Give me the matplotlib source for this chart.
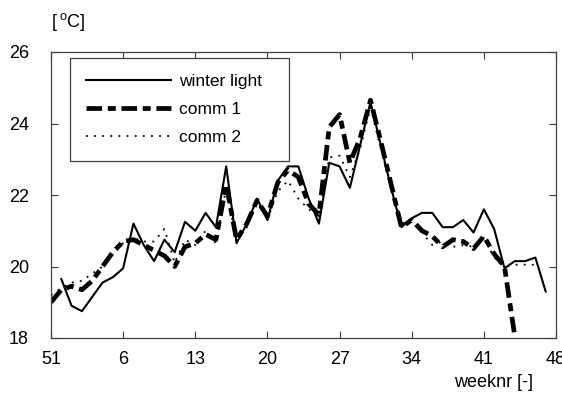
import numpy as np
import matplotlib
matplotlib.use('Agg')
import matplotlib.pyplot as plt

# 字体设置
matplotlib.rcParams['font.family'] = ['Liberation Sans', 'DejaVu Sans']
matplotlib.rcParams['font.size'] = 13
matplotlib.rcParams['mathtext.fontset'] = 'custom'
matplotlib.rcParams['mathtext.rm'] = 'Liberation Sans'

# week numbers along the axis (week 51 of previous year up to week 48)
weeks = [51, 52] + list(range(1, 49))
tick_weeks = [51, 6, 13, 20, 27, 34, 41, 48]

nan = np.nan
# temperature per week [deg C], nan = no data
winter_light = [nan, 19.65, 18.9, 18.75, 19.15, 19.55, 19.7, 19.95, 21.2, 20.6,
                20.15, 20.75, 20.4, 21.25, 21.0, 21.5, 21.1, 22.8, 20.65, 21.2,
                21.9, 21.3, 22.4, 22.8, 22.8, 21.9, 21.2, 22.9, 22.8, 22.2,
                23.4, 24.6, 23.4, 22.2, 21.1, 21.35, 21.5, 21.5, 21.1, 21.1,
                21.3, 20.95, 21.6, 21.05, 19.95, 20.15, 20.15, 20.25, 19.3, nan]
comm_1 = [19.0, 19.35, 19.45, 19.35, 19.6, 20.0, 20.4, 20.7, 20.75, 20.6,
          20.45, 20.3, 20.0, 20.55, 20.65, 20.9, 20.75, 22.3, 20.75, 21.2,
          21.85, 21.4, 22.35, 22.7, 22.5, 21.75, 21.45, 23.9, 24.25, 22.9,
          23.6, 24.65, 23.5, 22.3, 21.1, 21.3, 21.0, 20.85, 20.55, 20.75,
          20.7, 20.5, 20.85, 20.35, 20.0, 18.05, nan, nan, nan, nan]
comm_2 = [19.2, 19.4, 19.55, 19.6, 19.8, 20.0, 20.35, 20.65, 20.8, 20.7,
          20.7, 21.05, 20.1, 20.75, 20.6, 21.0, 20.65, 22.2, 20.7, 21.1,
          21.8, 21.3, 22.1, 22.4, 21.9, 21.6, 21.4, 23.05, 23.1, 22.5,
          23.3, 24.45, 23.3, 22.2, 21.2, 21.3, 20.95, 20.6, 20.7, 20.55,
          20.6, 20.55, 20.8, 20.25, 20.0, 20.05, 20.05, 20.05, nan, nan]

x = np.arange(len(weeks))
tick_pos = [weeks.index(w) if w != 48 else len(weeks) - 1 for w in tick_weeks]

fig = plt.figure(figsize=(5.62, 3.93), dpi=100)
ax = fig.add_axes([51 / 562, 1 - 338 / 393, 505 / 562, 286 / 393])

ax.plot(x, winter_light, color='black', lw=1.5, label='winter light')
ax.plot(x, comm_1, color='black', lw=3.4, linestyle=(0, (3.3, 1.2, 1.7, 1.2)), label='comm 1')
ax.plot(x, comm_2, color='black', lw=1.3, linestyle=(0, (1, 3.5)), label='comm 2')

ax.set_xlim(0, len(weeks) - 1)
ax.set_ylim(18, 26)
ax.set_xticks(tick_pos)
ax.set_xticklabels([str(w) for w in tick_weeks])
ax.set_yticks([18, 20, 22, 24, 26])
ax.tick_params(direction='in', top=True, right=True, length=5, width=0.8,
               color='#404040', labelsize=13)
ax.tick_params(axis='x', pad=9)
ax.tick_params(axis='y', pad=16)
for s in ax.spines.values():
    s.set_color('#404040')
    s.set_linewidth(0.9)

ax.text(0.0, 1.065, r'[$\,^{\mathrm{o}}$C]', transform=ax.transAxes, fontsize=13, ha='left', va='bottom')
ax.text(0.955, -0.125, 'weeknr [-]', transform=ax.transAxes, fontsize=13, ha='right', va='top')

leg = ax.legend(loc='upper left', bbox_to_anchor=(0.0376, 0.625, 0.434, 0.354), mode='expand',
                borderaxespad=0, fancybox=False, edgecolor='#404040', framealpha=1,
                handlelength=4.9, handletextpad=0.5, borderpad=0.9, labelspacing=0.75,
                fontsize=12.5)
leg.get_frame().set_linewidth(0.9)

fig.savefig('out.png', dpi=100)
